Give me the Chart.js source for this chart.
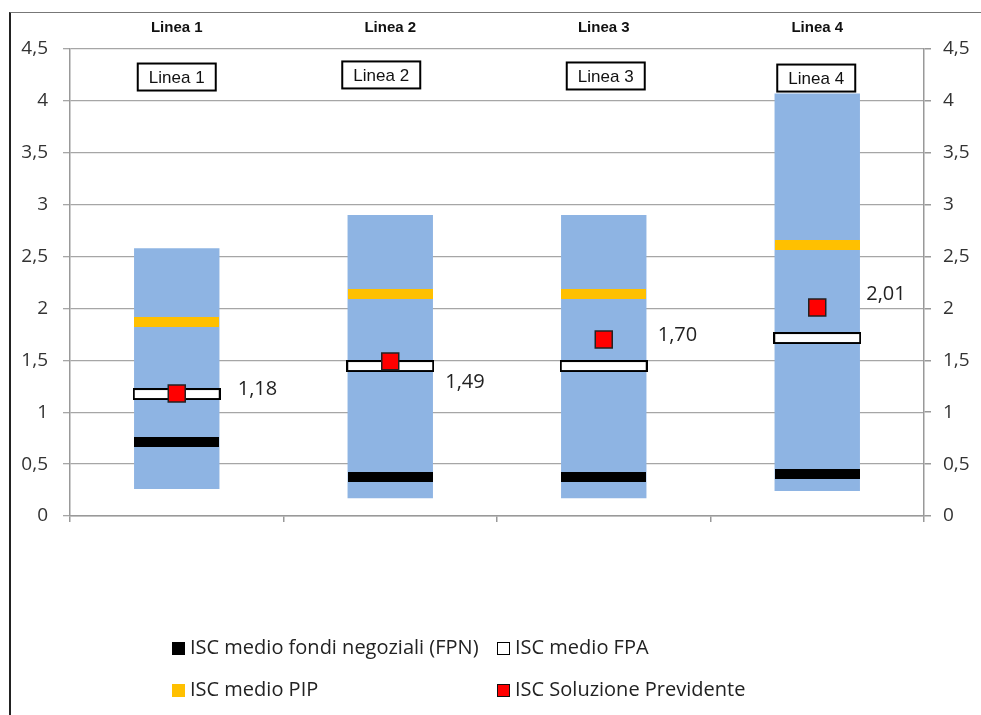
<!DOCTYPE html>
<html>
<head>
<meta charset="utf-8">
<script src="https://cdn.jsdelivr.net/npm/chart.js@4.4.1/dist/chart.umd.min.js"></script>
<style>
  html, body { margin: 0; padding: 0; background: #fff; }
  #wrap { position: relative; width: 981px; height: 715px; overflow: hidden; }
  #frame { position: absolute; left: 9px; top: 12px; width: 1000px; height: 800px;
           border-left: 2px solid #222; border-top: 1px solid #777; }
  canvas { position: absolute; left: 0; top: 0; }
  .lg { position: absolute; font: 20px "Open Sans", sans-serif; color: #222; white-space: nowrap;
        line-height: 26px; }
  .lg i { display: inline-block; width: 13px; height: 13px; margin-right: 5px; vertical-align: -1px; box-sizing: border-box; }
</style>
</head>
<body>
<div id="wrap">
  <div id="frame"></div>
  <canvas id="chart" width="981" height="715"></canvas>
  <div class="lg" style="left:172px; top:634px;"><i style="background:#000"></i>ISC medio fondi negoziali (FPN)</div>
  <div class="lg" style="left:497px; top:634px;"><i style="background:#fff; border:1.5px solid #000"></i>ISC medio FPA</div>
  <div class="lg" style="left:172px; top:676px;"><i style="background:#FFC000"></i>ISC medio PIP</div>
  <div class="lg" style="left:497px; top:676px;"><i style="background:#FF0000; border:1.5px solid #111"></i>ISC Soluzione Previdente</div>
</div>
<script>
// dati
const categories = ["Linea 1", "Linea 2", "Linea 3", "Linea 4"];
const rangeLow = [0.26, 0.17, 0.17, 0.24];
const rangeHigh = [2.58, 2.90, 2.90, 4.07];
const iscFPN = [0.71, 0.375, 0.375, 0.405];
const iscFPA = [1.175, 1.445, 1.445, 1.715];
const iscPIP = [1.87, 2.14, 2.14, 2.61];
const iscPrevidente = [1.18, 1.49, 1.70, 2.01];
const yTicks = { min: 0, max: 4.5, step: 0.5 };

const fmt = v => String(v).replace('.', ',');

// barrette orizzontali usate come pointStyle
function band(w, h, fill, stroke) {
  const c = document.createElement('canvas');
  c.width = w; c.height = h;
  const g = c.getContext('2d');
  g.fillStyle = fill;
  g.fillRect(0, 0, w, h);
  if (stroke) {
    g.strokeStyle = stroke;
    g.lineWidth = 2;
    g.strokeRect(1, 1, w - 2, h - 2);
  }
  return c;
}

// etichette "1,18" ecc. a destra dei quadrati rossi
const valueLabels = {
  id: 'valueLabels',
  afterDatasetsDraw(chart) {
    const meta = chart.getDatasetMeta(0);
    const dx = [61, 55, 54, 49];
    const dy = [-4, 21, -4, -13];
    const ctx = chart.ctx;
    ctx.save();
    ctx.font = '20px "Open Sans", sans-serif';
    ctx.fillStyle = '#222';
    ctx.textAlign = 'left';
    ctx.textBaseline = 'middle';
    meta.data.forEach((pt, i) => {
      ctx.fillText(iscPrevidente[i].toFixed(2).replace('.', ','), pt.x + dx[i], pt.y + dy[i]);
    });
    ctx.restore();
  }
};

// riquadri "Linea N" dentro l'area del grafico
const boxLabels = {
  id: 'boxLabels',
  afterDraw(chart) {
    const x = chart.scales.x, y = chart.scales.y;
    const dx = [0, -9, 2, -1];
    const yv = [4.23, 4.25, 4.24, 4.22];
    const ctx = chart.ctx;
    ctx.save();
    ctx.font = '17px "Liberation Sans", Arial, sans-serif';
    ctx.textAlign = 'center';
    ctx.textBaseline = 'middle';
    categories.forEach((c, i) => {
      const cx = x.getPixelForValue(i) + dx[i];
      const cy = y.getPixelForValue(yv[i]);
      const w = 78, h = 27;
      ctx.fillStyle = '#fff';
      ctx.fillRect(cx - w / 2, cy - h / 2, w, h);
      ctx.lineWidth = 2;
      ctx.strokeStyle = '#000';
      ctx.strokeRect(cx - w / 2, cy - h / 2, w, h);
      ctx.fillStyle = '#111';
      ctx.fillText(c, cx, cy + 1);
    });
    ctx.restore();
  }
};

const tickFont = { family: '"Open Sans", sans-serif', size: 19 };
const gridColor = '#a6a6a6';

const chart = new Chart(document.getElementById('chart'), {
  data: {
    labels: categories,
    datasets: [
      {
        type: 'line',
        label: 'ISC Soluzione Previdente',
        data: iscPrevidente,
        showLine: false,
        pointStyle: 'rect',
        pointRadius: 12,
        backgroundColor: '#FF0000',
        borderColor: '#222',
        borderWidth: 1.5,
        order: 0
      },
      {
        type: 'line',
        label: 'ISC medio FPA',
        data: iscFPA,
        showLine: false,
        pointStyle: band(88, 12, '#fff', '#000'),
        pointRadius: 5,
        order: 1
      },
      {
        type: 'line',
        label: 'ISC medio PIP',
        data: iscPIP,
        showLine: false,
        pointStyle: band(85, 10, '#FFC000'),
        pointRadius: 5,
        order: 2
      },
      {
        type: 'line',
        label: 'ISC medio fondi negoziali (FPN)',
        data: iscFPN,
        showLine: false,
        pointStyle: band(85, 10, '#000'),
        pointRadius: 5,
        order: 3
      },
      {
        type: 'bar',
        label: 'range',
        data: rangeLow.map((lo, i) => [lo, rangeHigh[i]]),
        backgroundColor: '#8EB4E3',
        barPercentage: 0.4,
        categoryPercentage: 1,
        order: 4
      }
    ]
  },
  options: {
    responsive: false,
    animation: false,
    events: [],
    layout: { padding: 0 },
    plugins: {
      legend: { display: false },
      tooltip: { enabled: false }
    },
    scales: {
      x: {
        type: 'category',
        position: 'bottom',
        offset: true,
        grid: { display: true, drawOnChartArea: false, offset: true, tickLength: 6, color: '#999', lineWidth: 1.5 },
        border: { color: '#999', width: 1.5 },
        ticks: { display: false },
        afterFit(s) { s.height = 199; }
      },
      x2: {
        type: 'category',
        position: 'top',
        offset: true,
        grid: { display: false },
        border: { display: false },
        ticks: { font: { family: '"Liberation Sans", Arial, sans-serif', size: 15, weight: 'bold' }, color: '#111', padding: 4 },
        afterFit(s) { s.height = 49; }
      },
      y: {
        position: 'left',
        min: yTicks.min,
        max: yTicks.max,
        grid: { color: gridColor, lineWidth: 1.3, tickLength: 7 },
        border: { color: '#999', width: 1.5 },
        ticks: { stepSize: yTicks.step, font: tickFont, color: '#333', padding: 15, callback: fmt },
        afterFit(s) { s.width = 70; }
      },
      y2: {
        position: 'right',
        min: yTicks.min,
        max: yTicks.max,
        grid: { drawOnChartArea: false, color: '#999', lineWidth: 1.5, tickLength: 7 },
        border: { color: '#999', width: 1.5 },
        ticks: { stepSize: yTicks.step, font: tickFont, color: '#333', padding: 12, callback: fmt },
        afterFit(s) { s.width = 57; }
      }
    }
  },
  plugins: [valueLabels, boxLabels]
});
</script>
</body>
</html>
